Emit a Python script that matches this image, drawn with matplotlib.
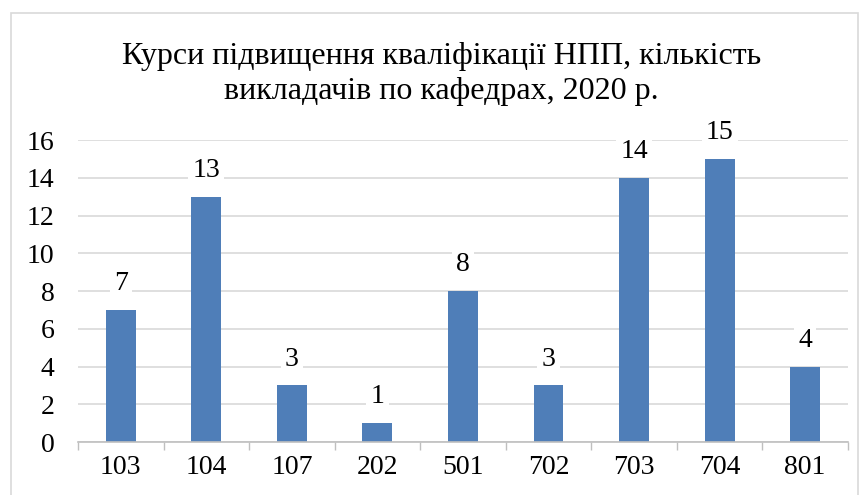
import matplotlib.pyplot as plt
from matplotlib.patches import Rectangle

departments = ["103", "104", "107", "202", "501", "702", "703", "704", "801"]
teachers = [7, 13, 3, 1, 8, 3, 14, 15, 4]
title = "Курси підвищення кваліфікації НПП, кількість\nвикладачів по кафедрах, 2020 р."

plt.rcParams['font.family'] = ['Liberation Serif', 'DejaVu Serif']

fig = plt.figure(figsize=(8.65, 4.95), dpi=100)
ax = fig.add_axes([0.0902, 0.107, 0.890, 0.610])

x = range(len(departments))
bars = ax.bar(x, teachers, width=0.35, color="#4F7EB8", zorder=3)

for xi, v in zip(x, teachers):
    ax.annotate(str(v), (xi, v), xytext=(0, 10), textcoords="offset points",
                ha="center", va="bottom", fontsize=20, zorder=4,
                bbox=dict(boxstyle="square,pad=0.15", fc="white", ec="none"))

ax.set_xlim(-0.5, len(departments) - 0.5)
ax.set_ylim(0, 16)
ax.set_yticks(range(0, 17, 2))
ax.set_xticks(list(x))
ax.set_xticklabels(departments)
ax.tick_params(axis="y", length=0, labelsize=20, pad=17)
ax.tick_params(axis="x", length=0, labelsize=20, pad=9)
# category separator ticks below the axis
ax.set_xticks([i - 0.5 for i in range(len(departments) + 1)], minor=True)
ax.tick_params(axis="x", which="minor", length=6, color="#BFBFBF", width=1)

ax.yaxis.grid(True, color="#D9D9D9", linewidth=1.2, zorder=0)
ax.set_axisbelow(True)
for side in ["top", "right", "left"]:
    ax.spines[side].set_visible(False)
ax.spines["bottom"].set_color("#BFBFBF")
ax.spines["bottom"].set_linewidth(1.2)
ax.spines["bottom"].set_zorder(5)

fig.text(0.51, 0.850, title, ha="center", va="center", fontsize=23,
         linespacing=1.28)

fig.patches.append(Rectangle((11 / 865, -0.05), 847 / 865, 1 - 13 / 495 + 0.05,
                             transform=fig.transFigure, fill=False,
                             edgecolor="#D9D9D9", linewidth=1.2))

fig.savefig("out.png", dpi=100)
